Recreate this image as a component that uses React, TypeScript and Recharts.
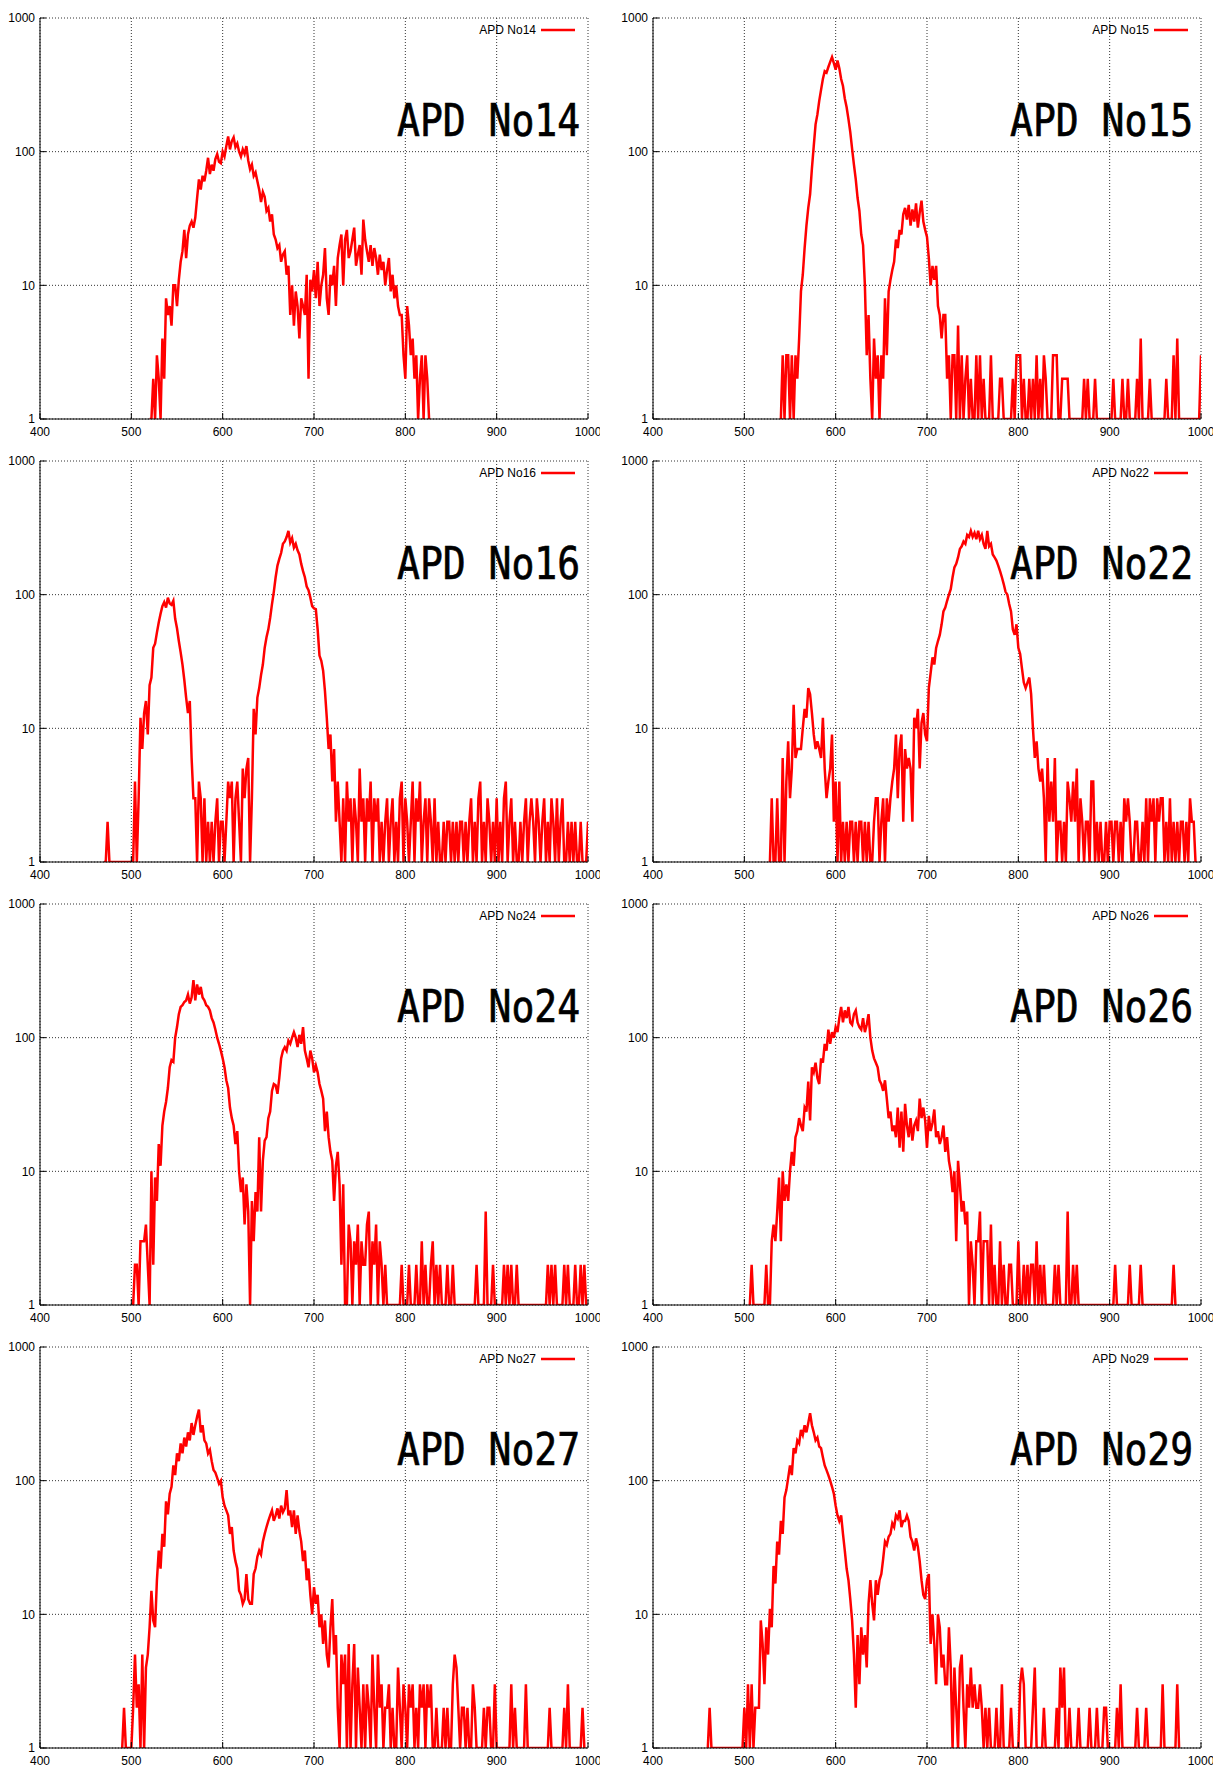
import React from "react";
import { CartesianGrid, Line, LineChart, XAxis, YAxis } from "recharts";

// channel step between stored counts
const STEP = 2;

const X_TICKS = [400, 500, 600, 700, 800, 900, 1000];
const X_TICKS_INNER = [500, 600, 700, 800, 900];
const Y_TICKS = [1, 10, 100, 1000];
const Y_MINOR = [2, 3, 4, 5, 6, 7, 8, 9, 20, 30, 40, 50, 60, 70, 80, 90, 200, 300, 400, 500, 600, 700, 800, 900];

const apd14Start = 520;
const apd14 = [
  1, 1, 2, 1, 3, 2, 1, 4, 2, 8,
  6, 7, 5, 10, 10, 7, 11, 15, 18, 26,
  16, 24, 28, 30, 27, 32, 45, 62, 52, 66,
  60, 72, 90, 68, 80, 72, 88, 96, 84, 82,
  100, 92, 110, 130, 104, 120, 128, 108, 115, 100,
  92, 104, 96, 110, 86, 74, 80, 66, 70, 60,
  52, 42, 50, 46, 36, 38, 30, 34, 24, 22,
  19, 20, 15, 17, 18, 12, 14, 6, 10, 5,
  9, 7, 4, 8, 7, 6, 12, 2, 11, 9,
  13, 8, 15, 7, 10, 12, 19, 8, 6, 12,
  10, 14, 7, 16, 20, 24, 10, 22, 26, 16,
  18, 22, 27, 14, 17, 20, 12, 31, 22, 18,
  15, 20, 14, 19, 16, 12, 17, 13, 15, 10,
  13, 16, 9, 12, 8, 10, 7, 6, 6, 3,
  2, 7, 5, 3, 4, 2, 3, 1, 2, 3,
  1, 3, 2, 1,
];

const apd15Start = 540;
const apd15 = [
  1, 3, 1, 3, 3, 1, 3, 1, 3, 2,
  4, 9, 12, 19, 28, 38, 48, 75, 110, 160,
  190, 240, 290, 350, 400, 390, 430, 470, 510, 460,
  410, 480, 420, 350, 310, 250, 215, 175, 140, 105,
  80, 62, 45, 36, 24, 20, 10, 3, 6, 2,
  1, 4, 2, 3, 1, 3, 2, 8, 3, 9,
  11, 13, 15, 22, 19, 26, 24, 34, 38, 31,
  40, 28, 37, 30, 41, 27, 35, 43, 30, 26,
  23, 16, 10, 14, 11, 14, 7, 6, 4, 6,
  6, 2, 3, 1, 3, 3, 1, 5, 1, 3,
  1, 2, 3, 1, 2, 1, 1, 3, 1, 3,
  1, 2, 1, 1, 1, 3, 1, 1, 1, 1,
  2, 2, 1, 1, 1, 1, 1, 2, 1, 3,
  3, 3, 1, 2, 1, 1, 2, 1, 2, 1,
  3, 1, 2, 1, 3, 2, 1, 1, 1, 3,
  3, 3, 1, 1, 2, 2, 2, 2, 1, 1,
  1, 1, 1, 1, 1, 1, 2, 1, 2, 1,
  1, 1, 2, 1, 1, 1, 1, 1, 1, 1,
  1, 1, 2, 1, 1, 1, 1, 2, 1, 1,
  2, 1, 1, 1, 1, 2, 1, 4, 1, 1,
  1, 1, 2, 1, 1, 1, 1, 1, 1, 1,
  1, 2, 1, 1, 1, 3, 1, 4, 1, 1,
  1, 1, 1, 1, 1, 1, 1, 1, 1, 1,
  3,
];

const apd16Start = 470;
const apd16 = [
  1, 1, 2, 1, 1, 1, 1, 1, 1, 1,
  1, 1, 1, 1, 1, 1, 1, 4, 1, 3,
  12, 7, 13, 16, 9, 21, 24, 40, 43, 52,
  62, 72, 82, 88, 80, 95, 86, 84, 90, 66,
  56, 45, 37, 30, 23, 17, 13, 16, 6, 3,
  3, 1, 4, 3, 1, 3, 1, 2, 1, 2,
  1, 2, 3, 1, 2, 2, 1, 2, 4, 3,
  4, 1, 3, 4, 2, 1, 5, 3, 5, 6,
  1, 3, 14, 9, 17, 20, 25, 30, 40, 48,
  55, 67, 85, 105, 135, 165, 185, 205, 240, 250,
  270, 300, 245, 265, 225, 240, 215, 200, 170, 150,
  135, 115, 108, 95, 82, 79, 78, 55, 35, 32,
  27, 19, 12, 7, 9, 4, 7, 2, 4, 2,
  1, 3, 1, 4, 2, 3, 1, 3, 2, 1,
  5, 2, 3, 1, 3, 2, 4, 1, 3, 2,
  3, 1, 2, 1, 2, 3, 1, 2, 3, 1,
  2, 1, 3, 4, 1, 3, 2, 1, 2, 4,
  1, 3, 2, 4, 1, 2, 3, 1, 3, 2,
  1, 3, 1, 2, 1, 1, 2, 1, 2, 2,
  1, 2, 1, 2, 1, 2, 2, 1, 2, 1,
  2, 3, 1, 2, 1, 3, 4, 1, 2, 1,
  3, 2, 1, 2, 1, 3, 1, 2, 1, 3,
  4, 1, 2, 3, 1, 2, 1, 1, 2, 1,
  2, 3, 1, 2, 3, 2, 1, 3, 2, 1,
  2, 3, 1, 2, 1, 3, 2, 1, 3, 1,
  2, 3, 1, 1, 2, 1, 2, 1, 2, 1,
  1, 2, 1, 1, 1, 2,
];

const apd22Start = 528;
const apd22 = [
  1, 3, 1, 1, 3, 1, 1, 6, 1, 4,
  8, 3, 5, 15, 6, 7, 7, 7, 10, 14,
  12, 20, 18, 13, 9, 7, 8, 7, 6, 12,
  5, 3, 4, 5, 9, 2, 4, 1, 4, 1,
  2, 1, 2, 1, 2, 2, 1, 2, 1, 2,
  2, 1, 2, 1, 2, 1, 1, 2, 3, 3,
  1, 2, 3, 1, 3, 2, 3, 4, 5, 9,
  3, 7, 9, 2, 7, 5, 6, 5, 2, 12,
  10, 14, 5, 11, 13, 9, 8, 20, 26, 34,
  30, 40, 45, 50, 60, 75, 80, 90, 100, 110,
  135, 160, 170, 190, 220, 230, 250, 240, 280, 270,
  300, 270, 290, 260, 300, 260, 280, 240, 220, 300,
  230, 240, 200, 190, 180, 165, 150, 135, 120, 105,
  100, 85, 75, 55, 50, 60, 40, 36, 28, 22,
  20, 22, 24, 18, 10, 6, 8, 5, 4, 5,
  3, 1, 6, 2, 4, 2, 6, 1, 2, 2,
  1, 2, 1, 4, 3, 2, 4, 2, 5, 1,
  3, 2, 1, 2, 2, 1, 4, 4, 1, 2,
  1, 2, 1, 1, 2, 1, 2, 2, 1, 2,
  2, 1, 2, 1, 3, 2, 3, 2, 1, 1,
  2, 2, 1, 1, 2, 1, 3, 1, 3, 2,
  3, 1, 3, 2, 3, 3, 1, 2, 1, 3,
  1, 2, 1, 2, 1, 2, 2, 1, 2, 1,
  3, 2, 2, 1,
];

const apd24Start = 502;
const apd24 = [
  1, 2, 2, 1, 3, 3, 3, 4, 2, 1,
  10, 2, 9, 6, 16, 11, 22, 28, 33, 42,
  60, 68, 66, 100, 120, 150, 170, 175, 185, 190,
  210, 180, 200, 270, 190, 250, 210, 240, 200, 190,
  175, 170, 160, 140, 130, 115, 100, 90, 80, 70,
  60, 48, 42, 30, 25, 22, 16, 20, 10, 7,
  9, 4, 8, 5, 1, 6, 3, 7, 5, 18,
  5, 12, 17, 18, 25, 28, 40, 45, 44, 38,
  50, 70, 80, 85, 80, 95, 90, 100, 110, 100,
  85, 105, 90, 120, 80, 70, 60, 80, 70, 55,
  62, 55, 45, 40, 35, 20, 28, 18, 14, 12,
  6, 11, 14, 8, 2, 8, 1, 1, 4, 3,
  1, 3, 2, 4, 1, 3, 2, 2, 4, 5,
  1, 3, 2, 4, 1, 3, 2, 1, 2, 1,
  1, 1, 1, 1, 1, 1, 1, 2, 1, 1,
  1, 2, 1, 1, 1, 2, 1, 1, 3, 1,
  2, 1, 1, 2, 3, 1, 2, 1, 2, 1,
  1, 1, 2, 1, 1, 2, 1, 1, 1, 1,
  1, 1, 1, 1, 1, 1, 1, 1, 2, 1,
  1, 1, 1, 5, 1, 1, 1, 2, 1, 1,
  1, 1, 1, 2, 1, 2, 1, 2, 1, 1,
  2, 1, 1, 1, 1, 1, 1, 1, 1, 1,
  1, 1, 1, 1, 1, 1, 1, 2, 1, 2,
  1, 2, 1, 1, 1, 1, 2, 1, 2, 1,
  1, 1, 2, 1, 1, 2, 1, 2, 1,
];

const apd26Start = 506;
const apd26 = [
  1, 2, 1, 1, 1, 1, 1, 1, 1, 2,
  1, 1, 3, 4, 3, 5, 9, 3, 10, 6,
  8, 6, 10, 14, 11, 18, 20, 25, 22, 20,
  30, 28, 47, 24, 60, 55, 65, 50, 45, 70,
  65, 90, 80, 115, 90, 110, 100, 120, 110, 140,
  170, 130, 160, 140, 170, 130, 125, 150, 160, 130,
  120, 115, 140, 110, 125, 150, 100, 80, 70, 65,
  60, 48, 45, 40, 48, 35, 25, 28, 20, 22,
  18, 30, 15, 28, 14, 32, 22, 18, 25, 17,
  22, 24, 20, 35, 25, 30, 24, 15, 26, 20,
  23, 29, 18, 20, 16, 18, 22, 14, 18, 12,
  10, 7, 10, 3, 12, 8, 5, 6, 4, 5,
  1, 3, 2, 1, 3, 3, 5, 1, 3, 3,
  3, 1, 4, 1, 2, 1, 1, 3, 1, 2,
  1, 1, 2, 2, 1, 1, 1, 3, 1, 1,
  2, 1, 2, 1, 2, 2, 1, 3, 1, 2,
  1, 2, 1, 1, 1, 1, 1, 2, 1, 2,
  1, 1, 1, 1, 5, 1, 1, 2, 1, 2,
  1, 1, 1, 1, 1, 1, 1, 1, 1, 1,
  1, 1, 1, 1, 1, 1, 1, 1, 1, 1,
  2, 1, 1, 1, 1, 1, 1, 1, 2, 1,
  1, 1, 1, 1, 2, 1, 1, 1, 1, 1,
  1, 1, 1, 1, 1, 1, 1, 1, 1, 1,
  1, 1, 2, 1,
];

const apd27Start = 490;
const apd27 = [
  1, 2, 1, 1, 1, 1, 2, 5, 2, 3,
  1, 5, 1, 4, 5, 8, 15, 9, 8, 18,
  30, 22, 40, 32, 70, 56, 80, 90, 130, 110,
  160, 140, 190, 160, 210, 180, 230, 200, 270, 220,
  260, 300, 340, 230, 260, 200, 190, 160, 170, 140,
  120, 115, 105, 95, 100, 75, 65, 60, 55, 40,
  45, 30, 25, 22, 15, 14, 12, 13, 20, 13,
  12, 12, 20, 22, 27, 30, 28, 35, 40, 45,
  50, 55, 60, 50, 55, 62, 52, 65, 58, 62,
  85, 55, 60, 45, 60, 40, 55, 42, 35, 25,
  30, 18, 22, 14, 10, 16, 12, 14, 8, 10,
  6, 9, 5, 4, 8, 13, 5, 7, 2, 1,
  5, 3, 5, 1, 6, 1, 3, 6, 1, 4,
  2, 1, 3, 1, 3, 2, 1, 5, 2, 1,
  5, 2, 3, 1, 2, 2, 3, 1, 2, 1,
  1, 4, 2, 1, 3, 2, 1, 3, 2, 3,
  1, 2, 1, 3, 2, 3, 1, 3, 2, 3,
  1, 1, 2, 1, 1, 1, 2, 1, 2, 1,
  1, 3, 5, 4, 2, 1, 2, 2, 1, 2,
  1, 1, 3, 2, 1, 1, 1, 1, 2, 1,
  2, 2, 1, 1, 3, 1, 1, 1, 1, 1,
  1, 1, 1, 3, 1, 2, 1, 1, 1, 1,
  1, 3, 1, 1, 1, 1, 1, 1, 1, 1,
  1, 1, 1, 1, 2, 1, 1, 1, 1, 1,
  1, 1, 2, 1, 3, 1, 1, 1, 1, 1,
  1, 1, 2, 1,
];

const apd29Start = 460;
const apd29 = [
  1, 2, 1, 1, 1, 1, 1, 1, 1, 1,
  1, 1, 1, 1, 1, 1, 1, 1, 1, 1,
  2, 1, 3, 1, 3, 1, 2, 2, 2, 9,
  6, 3, 8, 5, 11, 8, 23, 17, 35, 28,
  50, 40, 75, 85, 105, 130, 110, 175, 160, 200,
  190, 240, 220, 260, 230, 270, 320, 260, 230, 200,
  210, 180, 175, 150, 130, 120, 110, 100, 90, 80,
  65, 55, 50, 55, 40, 30, 22, 18, 13, 9,
  5, 2, 7, 3, 8, 5, 7, 4, 12, 18,
  12, 9, 18, 14, 18, 20, 26, 35, 33, 38,
  40, 48, 45, 55, 52, 60, 45, 50, 50, 55,
  50, 38, 35, 30, 37, 32, 25, 18, 14, 13,
  18, 20, 6, 10, 6, 3, 10, 8, 4, 5,
  3, 3, 8, 4, 1, 4, 2, 1, 4, 5,
  2, 1, 3, 2, 4, 2, 3, 2, 2, 3,
  2, 1, 2, 1, 2, 1, 1, 1, 2, 1,
  1, 3, 1, 1, 1, 1, 2, 1, 1, 1,
  1, 3, 4, 3, 1, 1, 1, 1, 2, 4,
  1, 1, 1, 1, 2, 1, 1, 1, 1, 1,
  1, 2, 1, 4, 2, 4, 1, 1, 2, 1,
  1, 1, 1, 2, 1, 1, 1, 1, 1, 2,
  1, 1, 1, 2, 1, 1, 1, 2, 2, 1,
  1, 1, 1, 1, 2, 1, 3, 1, 1, 1,
  1, 1, 1, 1, 1, 2, 1, 1, 1, 1,
  2, 1, 1, 1, 1, 1, 1, 1, 1, 3,
  1, 1, 1, 1, 1, 1, 1, 3, 1,
];

const PANELS = [
  { name: "APD No14", start: apd14Start, counts: apd14 },
  { name: "APD No15", start: apd15Start, counts: apd15 },
  { name: "APD No16", start: apd16Start, counts: apd16 },
  { name: "APD No22", start: apd22Start, counts: apd22 },
  { name: "APD No24", start: apd24Start, counts: apd24 },
  { name: "APD No26", start: apd26Start, counts: apd26 },
  { name: "APD No27", start: apd27Start, counts: apd27 },
  { name: "APD No29", start: apd29Start, counts: apd29 },
];

// page layout (plot area corners in page pixels)
const COL_LEFT = [40, 653];
const ROW_TOP = [18, 461, 904, 1347];
const PLOT_W = 548;
const PLOT_H = 401;
const Y_AXIS_W = 40;
const X_AXIS_H = 30;
const M_TOP = 10;
const M_RIGHT = 12;

const FONT = '"Liberation Sans", Arial, sans-serif';
const tickStyle = { fill: "#000", fontSize: 12, fontFamily: FONT };

type PanelProps = { name: string; start: number; counts: number[]; left: number; top: number };

function Panel({ name, start, counts, left, top }: PanelProps) {
  const data = counts.map((n, i) => ({ ch: start + i * STEP, n }));
  const width = Y_AXIS_W + PLOT_W + M_RIGHT;
  const height = M_TOP + PLOT_H + X_AXIS_H;
  const px = Y_AXIS_W;
  const py = M_TOP;
  const pr = px + PLOT_W;

  return (
    <div style={{ position: "absolute", left: left - Y_AXIS_W, top: top - M_TOP, width, height }}>
      <LineChart width={width} height={height} data={data} margin={{ top: M_TOP, right: M_RIGHT, bottom: 0, left: 0 }}>
        <CartesianGrid xAxisId="b" yAxisId="l" stroke="#333" strokeDasharray="1 2" />
        <XAxis
          xAxisId="b"
          dataKey="ch"
          type="number"
          domain={[400, 1000]}
          ticks={X_TICKS}
          interval={0}
          allowDataOverflow
          height={X_AXIS_H}
          tickSize={-6}
          tickMargin={14}
          stroke="#000"
          tick={tickStyle}
        />
        <XAxis
          xAxisId="t"
          orientation="top"
          mirror
          dataKey="ch"
          type="number"
          domain={[400, 1000]}
          ticks={X_TICKS_INNER}
          interval={0}
          allowDataOverflow
          height={0}
          tickSize={6}
          tick={false}
          stroke="#000"
        />
        <YAxis
          yAxisId="l"
          scale="log"
          domain={[1, 1000]}
          ticks={Y_TICKS}
          interval={0}
          allowDataOverflow
          width={Y_AXIS_W}
          tickSize={-6}
          tickMargin={11}
          stroke="#000"
          tick={tickStyle}
        />
        <YAxis
          yAxisId="lm"
          mirror
          scale="log"
          domain={[1, 1000]}
          ticks={Y_MINOR}
          interval={0}
          allowDataOverflow
          width={0}
          tickSize={3}
          tick={false}
          axisLine={false}
          stroke="#000"
        />
        <YAxis
          yAxisId="r"
          orientation="right"
          mirror
          scale="log"
          domain={[1, 1000]}
          ticks={Y_TICKS}
          interval={0}
          allowDataOverflow
          width={0}
          tickSize={6}
          tick={false}
          stroke="#000"
        />
        <YAxis
          yAxisId="rm"
          orientation="right"
          mirror
          scale="log"
          domain={[1, 1000]}
          ticks={Y_MINOR}
          interval={0}
          allowDataOverflow
          width={0}
          tickSize={3}
          tick={false}
          axisLine={false}
          stroke="#000"
        />
        <Line
          xAxisId="b"
          yAxisId="l"
          dataKey="n"
          type="linear"
          stroke="#ff0000"
          strokeWidth={2.5}
          dot={false}
          isAnimationActive={false}
        />
      </LineChart>
      <svg width={width} height={height} style={{ position: "absolute", left: 0, top: 0, pointerEvents: "none" }}>
        <text x={pr - 52} y={py + 16} textAnchor="end" fontFamily={FONT} fontSize={12} fill="#000">
          {name}
        </text>
        <line x1={pr - 47} x2={pr - 13} y1={py + 12} y2={py + 12} stroke="#ff0000" strokeWidth={2.5} />
        <text
          transform={`translate(${px + 357} ${py + 118}) scale(0.845 1)`}
          fontFamily='"DejaVu Sans Mono", monospace'
          fontSize={45}
          fill="#000"
          stroke="#000"
          strokeWidth={0.7}
        >
          {name}
        </text>
      </svg>
    </div>
  );
}

export default function App() {
  return (
    <div style={{ position: "absolute", left: 0, top: 0, width: 1221, height: 1766, background: "#fff" }}>
      {PANELS.map((p, i) => (
        <Panel
          key={p.name}
          name={p.name}
          start={p.start}
          counts={p.counts}
          left={COL_LEFT[i % 2]}
          top={ROW_TOP[Math.floor(i / 2)]}
        />
      ))}
    </div>
  );
}
